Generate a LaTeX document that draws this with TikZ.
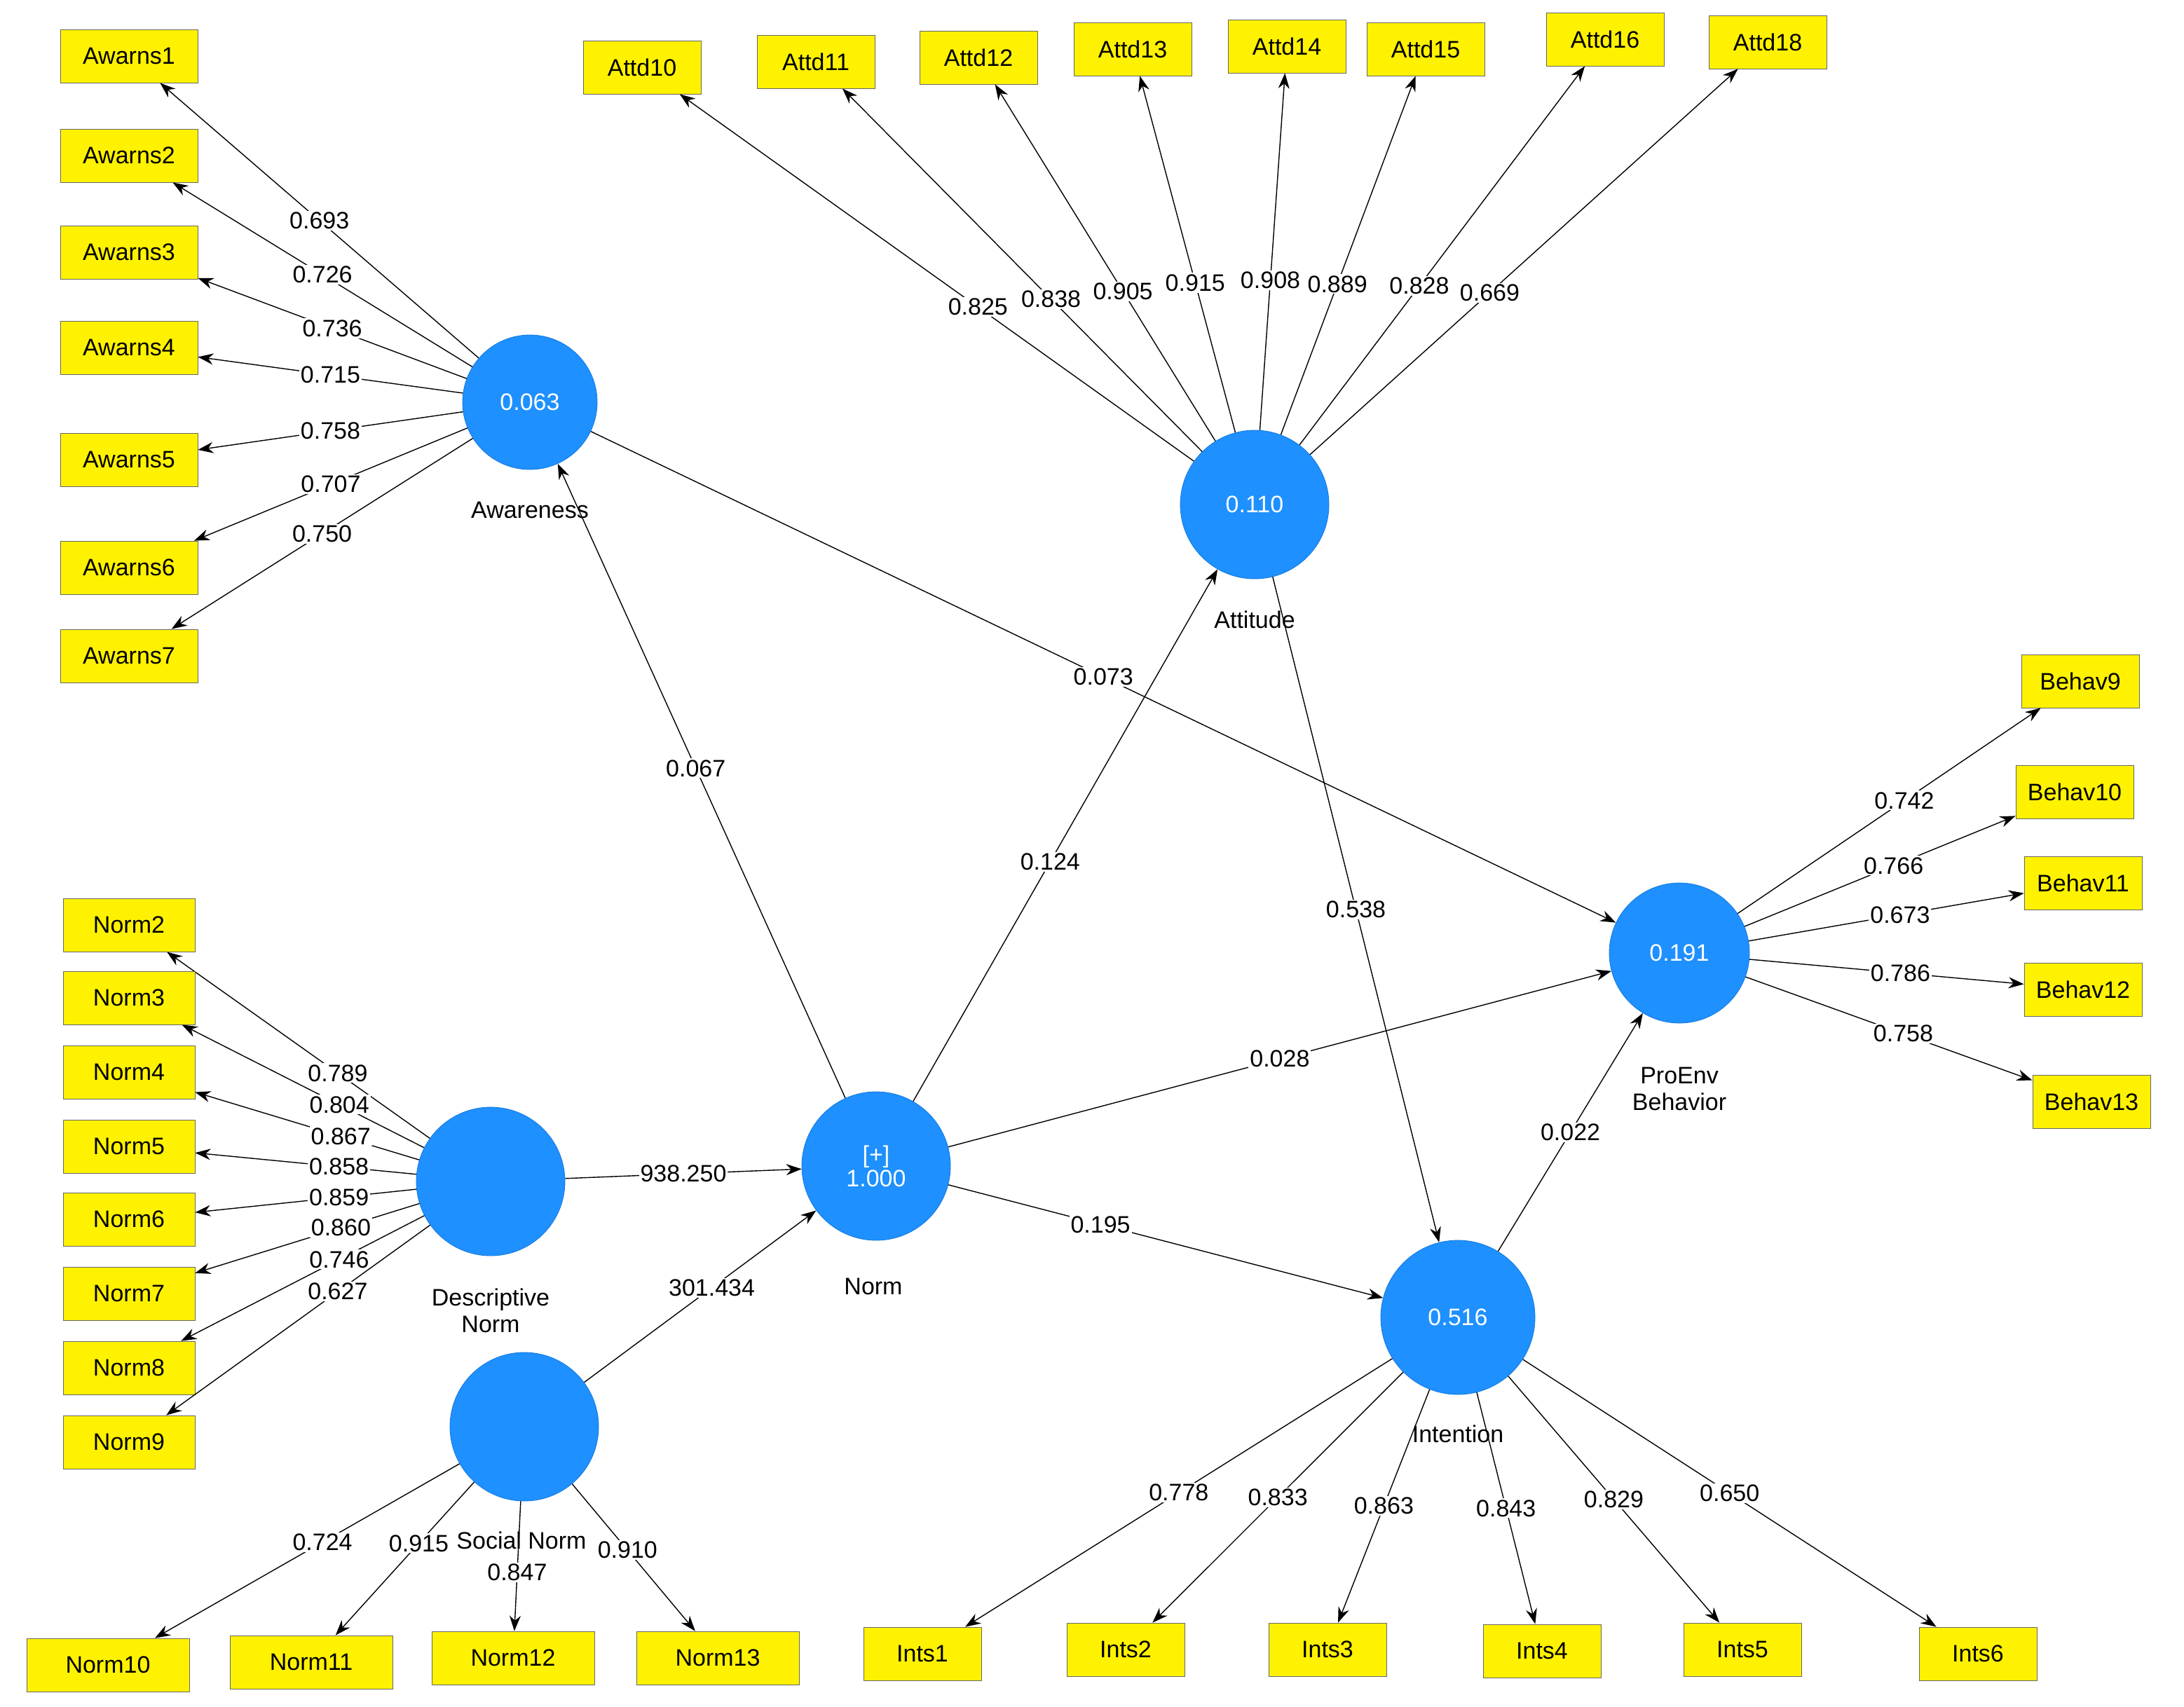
\documentclass[tikz,border=0pt]{standalone}
\usepackage{fontspec}
\setmainfont{Liberation Sans}
\usetikzlibrary{arrows.meta}
\begin{document}
\begin{tikzpicture}[x=1pt,y=-1pt,
 box/.style={draw=black!60,fill=yellow,minimum width=98pt,minimum height=38pt,inner sep=2pt,font=\fontsize{17}{17}\selectfont},
 sbox/.style={box,minimum width=84pt},
 lv/.style={circle,fill={rgb,255:red,30;green,144;blue,255},draw={rgb,255:red,20;green,120;blue,220},text=white,font=\fontsize{17}{17}\selectfont,align=center},
 nm/.style={font=\fontsize{17}{19}\selectfont,align=center},
 ar/.style={-{Stealth[length=11pt,width=8pt]},black,line width=0.7pt},
 lab/.style={fill=white,inner sep=1pt,font=\fontsize{17}{17}\selectfont}]
\useasboundingbox[fill=white] (0,0) rectangle (1558,1218);
% latent variables
\node[lv,minimum size=96pt] (aw) at (378,287) {0.063};
\node[lv,minimum size=106pt] (at) at (895,360) {0.110};
\node[lv,minimum size=106pt] (dn) at (350,843) {};
\node[lv,minimum size=106pt] (no) at (625,832) {[+]\\1.000};
\node[lv,minimum size=106pt] (sn) at (374,1018) {};
\node[lv,minimum size=110pt] (in) at (1040,940) {0.516};
\node[lv,minimum size=100pt] (pe) at (1198,680) {0.191};
\node[nm] at (378,364) {Awareness};
\node[nm] at (895,442) {Attitude};
\node[nm] at (350,935) {Descriptive\\Norm};
\node[nm] at (623,918) {Norm};
\node[nm] at (372,1099) {Social Norm};
\node[nm] at (1040,1023) {Intention};
\node[nm] at (1198,777) {ProEnv\\Behavior};
% Awareness indicators
\foreach \i/\y/\v in {1/40/0.693,2/111/0.726,3/180/0.736,4/248/0.715,5/328/0.758,6/405/0.707,7/468/0.750}{
 \node[box] (a\i) at (92,\y) {Awarns\i};
 \draw[ar] (aw) -- node[lab,pos=0.5]{\v} (a\i);}
% Attitude indicators
\foreach \n/\x/\y/\v in {10/458/48/0.825,11/582/44/0.838,12/698/41/0.905,13/808/35/0.915,14/918/33/0.908,15/1017/35/0.889,16/1145/28/0.828,18/1261/30/0.669}{
 \node[sbox] (t\n) at (\x,\y) {Attd\n};
 \draw[ar] (at) -- node[lab,pos=0.42]{\v} (t\n);}
% Behaviour
\foreach \n/\x/\y/\v in {9/1484/486/0.742,10/1480/565/0.766,11/1486/630/0.673,12/1486/706/0.786,13/1492/786/0.758}{
 \node[sbox] (b\n) at (\x,\y) {Behav\n};
 \draw[ar] (pe) -- node[lab,pos=0.55]{\v} (b\n);}
% Descriptive norm
\foreach \n/\y/\v in {2/660/0.789,3/712/0.804,4/765/0.867,5/818/0.858,6/870/0.859,7/923/0.860,8/976/0.746,9/1029/0.627}{
 \node[box,minimum width=94pt] (n\n) at (92,\y) {Norm\n};
 \draw[ar] (dn) -- node[lab,pos=0.35]{\v} (n\n);}
% Social norm
\foreach \n/\x/\y/\v/\p in {10/77/1188/0.724/0.45,11/222/1186/0.915/0.4,12/366/1183/0.847/0.55,13/512/1183/0.910/0.45}{
 \node[box,minimum width=116pt] (n\n) at (\x,\y) {Norm\n};
 \draw[ar] (sn) -- node[lab,pos=\p]{\v} (n\n);}
% Intention
\foreach \n/\x/\y/\v in {1/658/1180/0.778,2/803/1177/0.833,3/947/1177/0.863,4/1100/1178/0.843,5/1243/1177/0.829,6/1411/1180/0.650}{
 \node[sbox] (i\n) at (\x,\y) {Ints\n};
 \draw[ar] (in) -- node[lab,pos=0.5]{\v} (i\n);}
% structural
\draw[ar] (no) -- node[lab,pos=0.52]{0.067} (aw);
\draw[ar] (no) -- node[lab,pos=0.45]{0.124} (at);
\draw[ar] (aw) -- node[lab,pos=0.5]{0.073} (pe);
\draw[ar] (no) -- node[lab,pos=0.5]{0.028} (pe);
\draw[ar] (no) -- node[lab,pos=0.35]{0.195} (in);
\draw[ar] (at) -- node[lab,pos=0.5]{0.538} (in);
\draw[ar] (in) -- node[lab,pos=0.5]{0.022} (pe);
\draw[ar] (dn) -- node[lab,pos=0.5]{938.250} (no);
\draw[ar] (sn) -- node[lab,pos=0.55]{301.434} (no);
\end{tikzpicture}
\end{document}
